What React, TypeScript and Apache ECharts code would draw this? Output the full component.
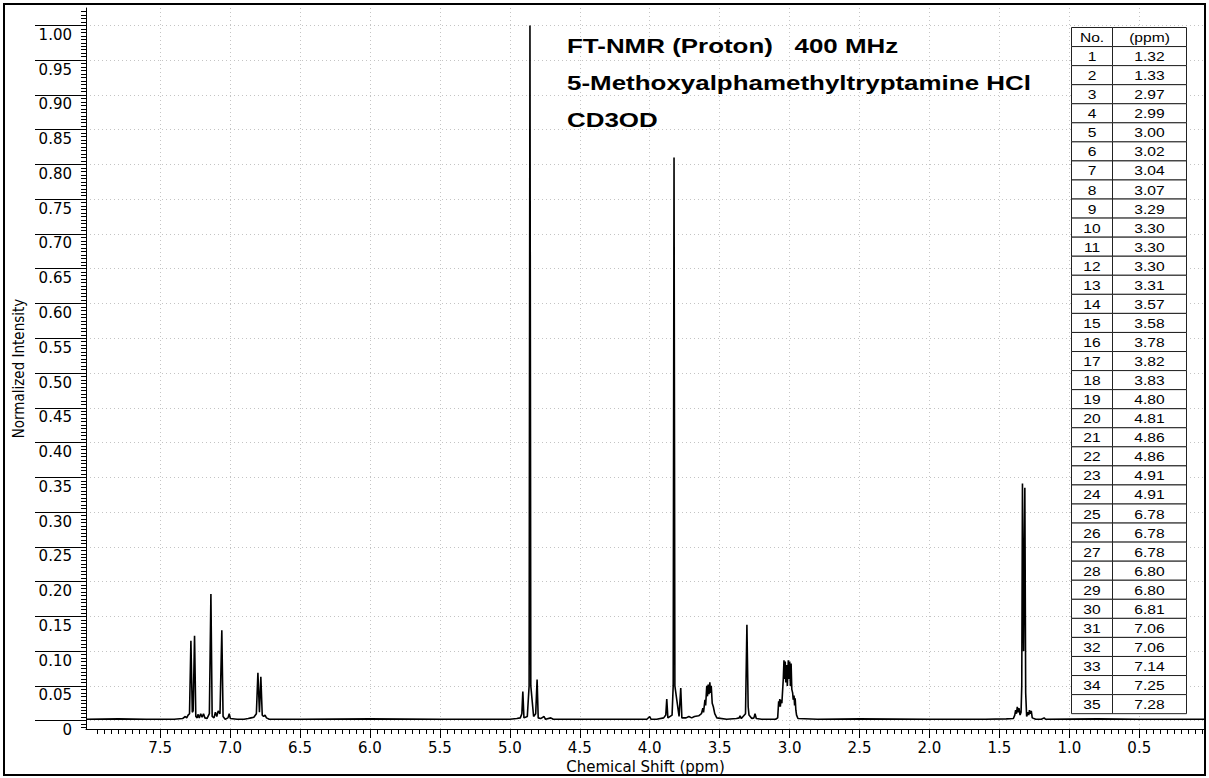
import React, { useEffect, useRef } from 'react';
import * as echarts from 'echarts';

// ---------- data ----------
const yTicks = [0, 0.05, 0.1, 0.15, 0.2, 0.25, 0.3, 0.35, 0.4, 0.45, 0.5, 0.55, 0.6, 0.65, 0.7, 0.75, 0.8, 0.85, 0.9, 0.95, 1.0];
const xTicks = [0.5, 1.0, 1.5, 2.0, 2.5, 3.0, 3.5, 4.0, 4.5, 5.0, 5.5, 6.0, 6.5, 7.0, 7.5];

const titleLines = ['FT-NMR (Proton)   400 MHz', '5-Methoxyalphamethyltryptamine HCl', 'CD3OD'];

const tableHeader = ['No.', '(ppm)'];
const peakNumbers = [1, 2, 3, 4, 5, 6, 7, 8, 9, 10, 11, 12, 13, 14, 15, 16, 17, 18, 19, 20, 21, 22, 23, 24, 25, 26, 27, 28, 29, 30, 31, 32, 33, 34, 35];
const peakPpm = ['1.32', '1.33', '2.97', '2.99', '3.00', '3.02', '3.04', '3.07', '3.29', '3.30', '3.30', '3.30', '3.31', '3.57', '3.58', '3.78', '3.82', '3.83', '4.80', '4.81', '4.86', '4.86', '4.91', '4.91', '6.78', '6.78', '6.78', '6.80', '6.80', '6.81', '7.06', '7.06', '7.14', '7.25', '7.28'];

// spectrum trace: [chemical shift (ppm), normalized intensity]
const spectrum: [number, number][] = [
  [8.03, 0.002], [7.8, 0.0025], [7.6, 0.002], [7.4, 0.002], [7.34, 0.003], [7.32, 0.006], [7.31, 0.004], [7.3, 0.008],
  [7.29, 0.01], [7.28, 0.115], [7.27, 0.012], [7.264, 0.014], [7.254, 0.122], [7.245, 0.006], [7.235, 0.004],
  [7.23, 0.009], [7.22, 0.004], [7.21, 0.01], [7.2, 0.005], [7.19, 0.01], [7.18, 0.004], [7.165, 0.003], [7.148, 0.01],
  [7.137, 0.182], [7.128, 0.006], [7.115, 0.004], [7.105, 0.012], [7.095, 0.006], [7.085, 0.014], [7.072, 0.01],
  [7.059, 0.13], [7.05, 0.006], [7.035, 0.002], [7.015, 0.004], [7.006, 0.01], [6.998, 0.003], [6.95, 0.002],
  [6.9, 0.002], [6.87, 0.003], [6.85, 0.004], [6.83, 0.005], [6.812, 0.01], [6.801, 0.069], [6.79, 0.012],
  [6.78, 0.063], [6.77, 0.008], [6.76, 0.006], [6.75, 0.008], [6.74, 0.004], [6.72, 0.002], [6.5, 0.002],
  [6.0, 0.0025], [5.5, 0.002], [5.2, 0.002], [5.0, 0.002], [4.95, 0.003], [4.925, 0.004], [4.914, 0.01],
  [4.907, 0.042], [4.899, 0.004], [4.875, 0.006], [4.862, 0.05], [4.856, 1.0], [4.85, 0.05], [4.83, 0.006],
  [4.815, 0.01], [4.805, 0.059], [4.797, 0.004], [4.78, 0.003], [4.755, 0.006], [4.745, 0.002], [4.707, 0.004],
  [4.69, 0.002], [4.5, 0.002], [4.2, 0.002], [4.02, 0.002], [4.0, 0.006], [3.99, 0.002], [3.95, 0.002], [3.9, 0.004],
  [3.885, 0.008], [3.878, 0.031], [3.87, 0.004], [3.84, 0.008], [3.832, 0.05], [3.826, 0.81], [3.82, 0.05],
  [3.79, 0.006], [3.778, 0.047], [3.77, 0.004], [3.74, 0.004], [3.72, 0.006], [3.7, 0.004], [3.68, 0.006],
  [3.65, 0.007], [3.63, 0.01], [3.62, 0.018], [3.615, 0.012], [3.605, 0.03], [3.6, 0.022], [3.592, 0.05],
  [3.587, 0.035], [3.582, 0.052], [3.576, 0.038], [3.57, 0.055], [3.565, 0.04], [3.56, 0.05], [3.553, 0.025],
  [3.545, 0.02], [3.535, 0.01], [3.52, 0.004], [3.45, 0.002], [3.38, 0.003], [3.36, 0.004], [3.354, 0.007],
  [3.345, 0.003], [3.315, 0.01], [3.305, 0.138], [3.296, 0.02], [3.29, 0.008], [3.27, 0.003], [3.255, 0.004],
  [3.247, 0.01], [3.238, 0.003], [3.2, 0.002], [3.1, 0.002], [3.085, 0.004], [3.078, 0.028], [3.074, 0.02],
  [3.07, 0.031], [3.066, 0.02], [3.062, 0.03], [3.055, 0.025], [3.045, 0.06], [3.04, 0.087], [3.036, 0.06],
  [3.031, 0.085], [3.027, 0.055], [3.022, 0.08], [3.016, 0.05], [3.009, 0.087], [3.004, 0.06], [2.999, 0.085],
  [2.994, 0.05], [2.989, 0.082], [2.984, 0.045], [2.978, 0.04], [2.974, 0.03], [2.968, 0.036], [2.964, 0.022],
  [2.96, 0.032], [2.955, 0.015], [2.95, 0.008], [2.94, 0.003], [2.8, 0.002], [2.5, 0.0025], [2.0, 0.002],
  [1.6, 0.002], [1.45, 0.0025], [1.4, 0.003], [1.39, 0.008], [1.384, 0.015], [1.378, 0.01], [1.372, 0.02],
  [1.366, 0.012], [1.36, 0.018], [1.352, 0.008], [1.345, 0.012], [1.34, 0.05], [1.335, 0.341], [1.327, 0.1],
  [1.318, 0.335], [1.312, 0.04], [1.305, 0.006], [1.295, 0.012], [1.29, 0.008], [1.285, 0.015], [1.278, 0.01],
  [1.272, 0.014], [1.265, 0.004], [1.24, 0.002], [1.2, 0.002], [1.18, 0.004], [1.17, 0.002], [0.8, 0.0025],
  [0.5, 0.002], [0.2, 0.002], [0.03, 0.002],
];

// ---------- component ----------
const WIDTH = 1209;
const HEIGHT = 778;

export default function App() {
  const ref = useRef<HTMLDivElement>(null);

  useEffect(() => {
    if (!ref.current) return;
    const chart = echarts.init(ref.current, null, { renderer: 'svg' });

    const tableLeft = 1071.5;
    const tableTop = 27.5;
    const rowH = 19.06;
    const col1W = 41;
    const col2W = 74;
    const tableRows: string[][] = [tableHeader, ...peakNumbers.map((n, i) => [String(n), peakPpm[i]])];
    const tableFont = { fontFamily: 'Liberation Sans, Arial, sans-serif', fontSize: 13 };

    const tableElements: any[] = [];
    tableRows.forEach((row, r) => {
      const y = tableTop + r * rowH;
      tableElements.push({
        type: 'rect', z: 20,
        shape: { x: tableLeft, y, width: col1W, height: rowH },
        style: { fill: '#fff', stroke: '#222', lineWidth: 1 },
      });
      tableElements.push({
        type: 'rect', z: 20,
        shape: { x: tableLeft + col1W, y, width: col2W, height: rowH },
        style: { fill: '#fff', stroke: '#222', lineWidth: 1 },
      });
      tableElements.push({
        type: 'text', z: 21, x: tableLeft + col1W / 2, y: y + rowH / 2 + 0.5, scaleX: 1.2,
        style: { text: row[0], ...tableFont, fill: '#000', align: 'center', verticalAlign: 'middle' },
      });
      tableElements.push({
        type: 'text', z: 21, x: tableLeft + col1W + col2W / 2, y: y + rowH / 2 + 0.5, scaleX: 1.2,
        style: { text: row[1], ...tableFont, fill: '#000', align: 'center', verticalAlign: 'middle' },
      });
    });

    const titleY = [46, 83, 120];
    const titleElements = titleLines.map((t, i) => ({
      type: 'text', z: 20, x: 567, y: titleY[i], scaleX: 1.33,
      style: {
        text: t, fontFamily: 'Liberation Sans, Arial, sans-serif', fontSize: 19.5, fontWeight: 'bold',
        fill: '#000', align: 'left', verticalAlign: 'middle',
      },
    }));

    const gridLine = { show: true, lineStyle: { color: '#c4c4c4', type: [1, 3], width: 1 } };

    const option: any = {
      animation: false,
      backgroundColor: '#fff',
      grid: { left: 86, right: 4, top: 8, height: 721, outerBoundsMode: 'none', containLabel: false },
      xAxis: {
        type: 'value',
        inverse: true,
        min: 0.03,
        max: 8.03,
        minInterval: 0.5,
        maxInterval: 0.5,
        name: 'Chemical Shift (ppm)',
        nameLocation: 'middle',
        nameGap: 23,
        nameTextStyle: { fontFamily: 'DejaVu Sans', fontSize: 15, color: '#000' },
        axisLine: { show: true, onZero: false, lineStyle: { color: '#000', width: 1 } },
        axisTick: { show: true, customValues: xTicks, length: 9, lineStyle: { color: '#000', width: 1 } },
        minorTick: { show: true, splitNumber: 10, length: 5, lineStyle: { color: '#000', width: 1 } },
        axisLabel: {
          show: true, customValues: xTicks, margin: 11, color: '#000',
          fontFamily: 'DejaVu Sans', fontSize: 15,
          formatter: (v: number) => v.toFixed(1),
        },
        splitLine: gridLine,
        minorSplitLine: { show: false },
      },
      yAxis: {
        type: 'value',
        min: -0.012,
        max: 1.025,
        minInterval: 0.05,
        maxInterval: 0.05,
        name: 'Normalized Intensity',
        nameLocation: 'middle',
        nameGap: 60,
        nameRotate: 90,
        nameTextStyle: { fontFamily: 'Liberation Sans Narrow, DejaVu Sans Condensed, sans-serif', fontSize: 15, color: '#000' },
        axisLine: { show: true, onZero: false, lineStyle: { color: '#000', width: 1 } },
        axisTick: { show: true, customValues: yTicks, length: 51, lineStyle: { color: '#000', width: 1 } },
        minorTick: { show: true, splitNumber: 10, length: 5, lineStyle: { color: '#000', width: 1 } },
        axisLabel: {
          show: true, customValues: yTicks, margin: 14, color: '#000',
          fontFamily: 'DejaVu Sans', fontSize: 15, verticalAlign: 'top', padding: [2, 0, 0, 0],
          formatter: (v: number) => (v === 0 ? '0' : v.toFixed(2)),
        },
        splitLine: gridLine,
      },
      graphic: [
        ...titleElements,
        ...tableElements,
        {
          type: 'rect', z: 30,
          shape: { x: 4, y: 4, width: 1201, height: 771 },
          style: { fill: 'none', stroke: '#000', lineWidth: 2 },
        },
      ],
      series: [
        {
          type: 'line',
          data: spectrum,
          showSymbol: false,
          symbol: 'none',
          silent: true,
          clip: true,
          lineStyle: { color: '#000', width: 1.6 },
          z: 5,
        },
      ],
    };

    chart.setOption(option);
    return () => chart.dispose();
  }, []);

  return (
    <div
      ref={ref}
      style={{ position: 'fixed', left: 0, top: 0, width: WIDTH, height: HEIGHT, background: '#fff' }}
    />
  );
}
